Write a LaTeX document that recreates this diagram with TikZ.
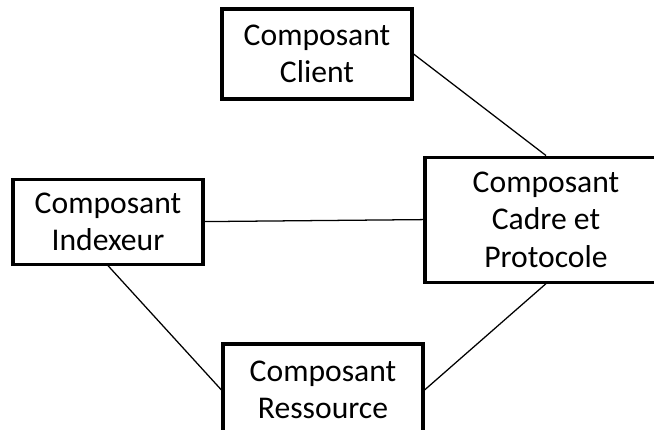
\documentclass[tikz,border=0pt]{standalone}
\usepackage{fontspec}
\setmainfont{Carlito}
\usetikzlibrary{positioning}

\begin{document}
\begin{tikzpicture}[
 box/.style={draw,line width=2.2pt,align=center,inner sep=0pt,
  font=\fontsize{22.5}{26.5}\selectfont},
 link/.style={line width=0.9pt}]
\clip (0,0) rectangle (16.35,-10.75);
\node[box,minimum width=4.75cm,minimum height=2.25cm] (client) at (7.925,-1.35) {Composant\\Client};
\node[box,minimum width=6.05cm,minimum height=3.125cm] (cadre) at (13.65,-5.49) {Composant\\Cadre et\\Protocole};
\node[box,minimum width=4.75cm,minimum height=2.125cm] (indexeur) at (2.7,-5.54) {Composant\\Indexeur};
\node[box,minimum width=5cm,minimum height=2.3cm] (ressource) at (8.075,-9.75) {Composant\\Ressource};
\draw[link] (client.east)--(cadre.north);
\draw[link] (indexeur.east)--(cadre.west);
\draw[link] (indexeur.south)--(ressource.west);
\draw[link] (ressource.east)--(cadre.south);
\end{tikzpicture}
\end{document}
